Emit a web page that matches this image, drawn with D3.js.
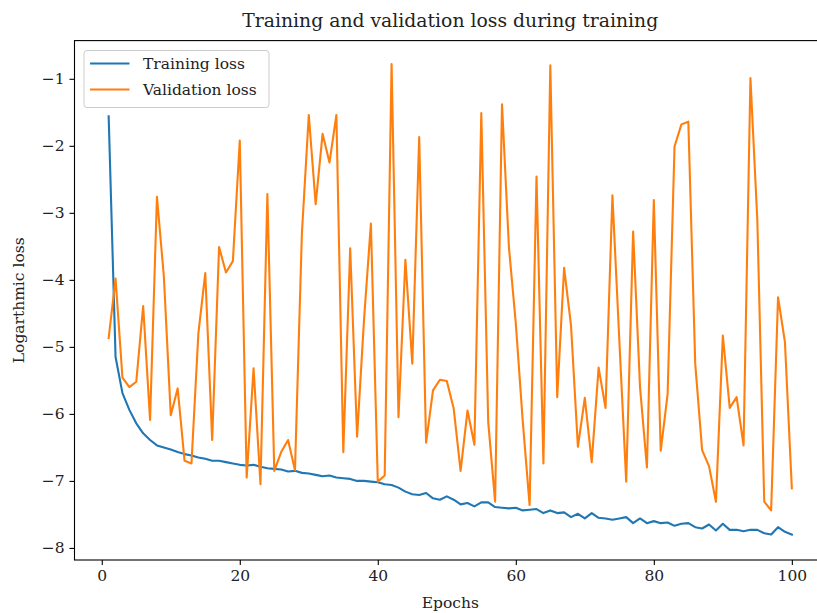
<!DOCTYPE html>
<html>
<head>
<meta charset="utf-8">
<script src="https://cdn.jsdelivr.net/npm/d3@7"></script>
<style>
  body { margin: 0; background: #fff; }
  svg text { font-family: "DejaVu Serif", "Liberation Serif", serif; fill: #222; }
</style>
</head>
<body>
<svg id="chart" width="817" height="613"></svg>
<script>
const epochs = d3.range(1, 101);
const trainingLoss = [
  -1.56, -5.15, -5.69, -5.94, -6.14, -6.29, -6.39, -6.47, -6.50, -6.53,
  -6.57, -6.60, -6.62, -6.65, -6.67, -6.70, -6.70, -6.72, -6.74, -6.76,
  -6.77, -6.76, -6.79, -6.81, -6.82, -6.83, -6.86, -6.85, -6.88, -6.89,
  -6.91, -6.93, -6.92, -6.95, -6.96, -6.97, -7.00, -7.00, -7.01, -7.02,
  -7.05, -7.06, -7.10, -7.16, -7.20, -7.21, -7.18, -7.26, -7.28, -7.23,
  -7.28, -7.35, -7.33, -7.38, -7.32, -7.32, -7.39, -7.40, -7.41, -7.40,
  -7.44, -7.43, -7.42, -7.48, -7.44, -7.48, -7.47, -7.54, -7.49, -7.56,
  -7.48, -7.55, -7.56, -7.58, -7.56, -7.54, -7.63, -7.56, -7.63, -7.60,
  -7.63, -7.62, -7.67, -7.64, -7.63, -7.69, -7.71, -7.65, -7.74, -7.64,
  -7.73, -7.73, -7.75, -7.73, -7.73, -7.78, -7.80, -7.69, -7.76, -7.80
];
const validationLoss = [
  -4.87, -3.98, -5.46, -5.60, -5.52, -4.39, -6.09, -2.76, -3.95, -6.02,
  -5.62, -6.70, -6.74, -4.80, -3.90, -6.39, -3.51, -3.89, -3.72, -1.92,
  -6.95, -5.32, -7.05, -2.72, -6.85, -6.57, -6.39, -6.84, -3.31, -1.54,
  -2.87, -1.82, -2.25, -1.54, -6.57, -3.53, -6.34, -4.60, -3.16, -7.01,
  -6.92, -0.78, -6.05, -3.70, -5.25, -1.87, -6.43, -5.65, -5.49, -5.51,
  -5.92, -6.85, -5.95, -6.46, -1.51, -6.12, -7.31, -1.38, -3.51, -4.65,
  -6.10, -7.36, -2.46, -6.74, -0.80, -5.75, -3.82, -4.68, -6.49, -5.76,
  -6.72, -5.31, -5.91, -2.74, -4.90, -7.01, -3.28, -5.60, -6.80, -2.81,
  -6.55, -5.70, -2.01, -1.68, -1.64, -5.25, -6.54, -6.78, -7.31, -4.83,
  -5.91, -5.75, -6.47, -0.99, -3.11, -7.31, -7.44, -4.26, -4.93, -7.11
];
const xTicks = [0, 20, 40, 60, 80, 100];
const yTicks = [-8, -7, -6, -5, -4, -3, -2, -1];
const seriesNames = ["Training loss", "Validation loss"];
const colors = ["#1f77b4", "#ff7f0e"];

const svg = d3.select("#chart");
const pLeft = 74.5, pRight = 826, pTop = 40.6, pBottom = 560;
const x = d3.scaleLinear().domain([-3.95, 104.95]).range([pLeft, pRight]);
const y = d3.scaleLinear().domain([-8.18, -0.43]).range([pBottom, pTop]);

const plot = svg.append("g");

const line = d3.line().x(d => x(d[0])).y(d => y(d[1]));
const series = [trainingLoss, validationLoss];
series.forEach((vals, i) => {
  plot.append("path")
    .datum(epochs.map((e, j) => [e, vals[j]]))
    .attr("d", line)
    .attr("fill", "none")
    .attr("stroke", colors[i])
    .attr("stroke-width", 2.1)
    .attr("stroke-linejoin", "round")
    .attr("stroke-linecap", "square");
});

// frame
svg.append("rect")
  .attr("x", pLeft).attr("y", pTop)
  .attr("width", pRight - pLeft).attr("height", pBottom - pTop)
  .attr("fill", "none").attr("stroke", "#000").attr("stroke-width", 1.1);

// axes
const xAxis = d3.axisBottom(x).tickValues(xTicks).tickSize(5).tickPadding(5).tickFormat(d3.format("d"));
const gx = svg.append("g").attr("transform", `translate(0,${pBottom})`).call(xAxis);
gx.select(".domain").remove();
gx.selectAll("text").attr("font-size", 15.5).style("font-family", "'DejaVu Serif', serif").attr("fill", "#222");
gx.selectAll("line").attr("stroke", "#000").attr("stroke-width", 1.1);

const yAxis = d3.axisLeft(y).tickValues(yTicks).tickSize(5).tickPadding(5).tickFormat(d3.format("d"));
const gy = svg.append("g").attr("transform", `translate(${pLeft},0)`).call(yAxis);
gy.select(".domain").remove();
gy.selectAll("text").attr("font-size", 15.5).style("font-family", "'DejaVu Serif', serif").attr("fill", "#222");
gy.selectAll("line").attr("stroke", "#000").attr("stroke-width", 1.1);

// title and labels
svg.append("text")
  .attr("x", (pLeft + pRight) / 2).attr("y", 27)
  .attr("text-anchor", "middle").attr("font-size", 18.8)
  .text("Training and validation loss during training");
svg.append("text")
  .attr("x", (pLeft + pRight) / 2).attr("y", 608)
  .attr("text-anchor", "middle").attr("font-size", 15.5)
  .text("Epochs");
svg.append("text")
  .attr("transform", `translate(24,${(pTop + pBottom) / 2}) rotate(-90)`)
  .attr("text-anchor", "middle").attr("font-size", 15.5)
  .text("Logarthmic loss");

// legend
const lg = svg.append("g");
lg.append("rect")
  .attr("x", 84).attr("y", 50.5).attr("width", 185).attr("height", 57)
  .attr("rx", 3).attr("fill", "#fff").attr("fill-opacity", 0.8)
  .attr("stroke", "#ccc").attr("stroke-width", 1);
seriesNames.forEach((name, i) => {
  const cy = 63.5 + i * 26;
  lg.append("line")
    .attr("x1", 90).attr("x2", 129.5).attr("y1", cy).attr("y2", cy)
    .attr("stroke", colors[i]).attr("stroke-width", 2.1);
  lg.append("text")
    .attr("x", 143).attr("y", cy + 5)
    .attr("font-size", 15.5)
    .text(name);
});
</script>
</body>
</html>
